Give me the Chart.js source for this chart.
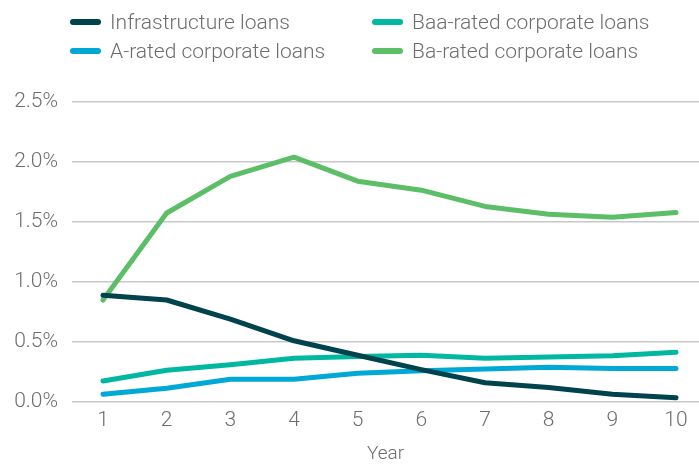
<!DOCTYPE html>
<html><head><meta charset="utf-8">
<script src="https://cdn.jsdelivr.net/npm/chart.js@4"></script>
<style>
html,body{margin:0;padding:0;background:#fff;}
#wrap{position:relative;width:699px;height:464px;}
#legend{position:absolute;left:0;top:0;width:699px;height:80px;font-family:Roboto,sans-serif;font-weight:300;font-size:21px;color:#6d6e71;}
.item{position:absolute;display:flex;align-items:center;white-space:nowrap;height:26px;}
.sw{width:31px;height:6px;border-radius:3px;margin-right:9px;}
</style></head>
<body><div id="wrap"><canvas id="c" width="699" height="464"></canvas><div id="legend"></div></div>
<script>
const years = [1,2,3,4,5,6,7,8,9,10];
const seriesNames = ["Infrastructure loans","A-rated corporate loans","Baa-rated corporate loans","Ba-rated corporate loans"];
const infrastructure = [0.89,0.85,0.69,0.51,0.39,0.27,0.16,0.12,0.065,0.035];
const aRated = [0.065,0.115,0.19,0.19,0.24,0.26,0.275,0.29,0.28,0.28];
const baaRated = [0.175,0.265,0.31,0.365,0.38,0.39,0.365,0.375,0.385,0.415];
const baRated = [0.85,1.575,1.88,2.04,1.84,1.765,1.63,1.565,1.54,1.58];
const yTicks = [0,0.5,1.0,1.5,2.0,2.5];
const colors = ["#00434c","#00a8d6","#00b8a2","#5cbf68"];
const values = [infrastructure,aRated,baaRated,baRated];

const datasets = values.map((v,i)=>({
  label: seriesNames[i],
  data: v.map((y,j)=>({x:years[j],y:y})),
  borderColor: colors[i], backgroundColor: colors[i],
  borderWidth: 5, pointRadius: 0, tension: 0, borderCapStyle:'round', borderJoinStyle:'round'
}));
datasets[0].order = 0; datasets[1].order=3; datasets[2].order=2; datasets[3].order=1;

const leg = document.getElementById('legend');
const pos = [[70,9],[70,38],[372,9],[372,38]];
seriesNames.forEach((n,i)=>{
  const d=document.createElement('div');d.className='item';
  d.style.left=pos[i][0]+'px';d.style.top=pos[i][1]+'px';
  d.innerHTML='<span class="sw" style="background:'+colors[i]+'"></span><span>'+n+'</span>';
  leg.appendChild(d);
});

const font = {family:'Roboto', size:21, weight:300};
new Chart(document.getElementById('c'),{
  type:'line',
  data:{datasets},
  options:{
    responsive:false, animation:false,
    layout:{padding:{top:102,left:0,right:0,bottom:0}},
    plugins:{legend:{display:false},tooltip:{enabled:false}},
    scales:{
      x:{type:'linear',min:0.513,max:10.361,
        afterBuildTicks:(s)=>{s.ticks=years.map(v=>({value:v}));},
        afterFit:(s)=>{s.height=62;},
        grid:{display:false,drawTicks:false},border:{display:false},
        ticks:{color:'#6d6e71',font,padding:6,autoSkip:false,maxRotation:0},
        title:{display:true,text:'Year',color:'#6d6e71',font:{family:'Roboto',size:19,weight:300,lineHeight:1.0},padding:{top:4,bottom:0}}},
      y:{min:0,max:2.5,
        afterBuildTicks:(s)=>{s.ticks=yTicks.map(v=>({value:v}));},
        afterFit:(s)=>{s.width=72;},
        grid:{color:'#c8c8c8',lineWidth:1.5,drawTicks:false},border:{display:false},
        ticks:{color:'#6d6e71',font,padding:14,callback:(v)=>v.toFixed(1)+'%'}}
    }
  }
});
</script></body></html>
